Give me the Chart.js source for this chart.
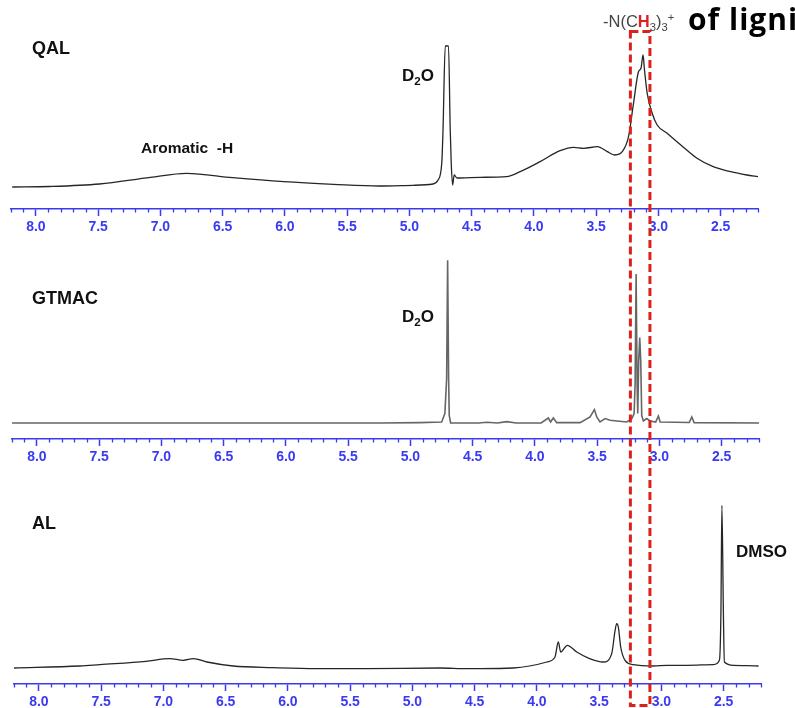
<!DOCTYPE html>
<html>
<head>
<meta charset="utf-8">
<script src="https://cdn.jsdelivr.net/npm/chart.js@4.4.1/dist/chart.umd.min.js"></script>
<style>
  html, body { margin: 0; padding: 0; background: #fff; }
  #page { position: relative; width: 795px; height: 708px; overflow: hidden; background: #fff;
          font-family: "Liberation Sans", Arial, sans-serif; }
  .panel { position: absolute; left: 0; width: 795px; }
  .panel canvas { display: block; }
  .lbl { position: absolute; font-weight: bold; color: #111; white-space: pre; line-height: 1; }
  .lbl sub, .lbl sup { font-size: 0.68em; line-height: 0; }
  #overlay { position: absolute; left: 0; top: 0; pointer-events: none; }
</style>
</head>
<body>
<div id="page">
  <div class="panel" style="top:30px;height:205px"><canvas id="cQAL" width="795" height="205"></canvas></div>
  <div class="panel" style="top:250px;height:215px"><canvas id="cGTMAC" width="795" height="215"></canvas></div>
  <div class="panel" style="top:490px;height:220px"><canvas id="cAL" width="795" height="220"></canvas></div>

  <div class="lbl" style="left:32px;top:39px;font-size:18px">QAL</div>
  <div class="lbl" style="left:141px;top:140px;font-size:15.5px">Aromatic  -H</div>
  <div class="lbl" style="left:402px;top:67px;font-size:17px">D<sub>2</sub>O</div>
  <div class="lbl" style="left:32px;top:289px;font-size:18px">GTMAC</div>
  <div class="lbl" style="left:402px;top:308px;font-size:17px">D<sub>2</sub>O</div>
  <div class="lbl" style="left:32px;top:514px;font-size:18px">AL</div>
  <div class="lbl" style="left:736px;top:543px;font-size:17px">DMSO</div>
  <div class="lbl" style="left:603px;top:13px;font-size:16.5px;font-weight:normal;color:#444">-N(C<span style="color:#e02020;font-weight:bold">H</span><sub>3</sub>)<sub>3</sub><sup>+</sup></div>
  <div class="lbl" style="left:688px;top:4px;font-size:30px;letter-spacing:1px;font-family:'Open Sans',sans-serif;color:#000">of lignin</div>

  <canvas id="overlay" width="795" height="708"></canvas>
</div>

<script>
// 1H NMR spectra, chemical shift (ppm) against intensity (a.u., 0 = flat baseline)
const qalPpm = [8.19, 7.89, 7.49, 7.08, 6.79, 6.42, 6.01, 5.61, 5.24, 4.97, 4.81, 4.77, 4.74, 4.73,
  4.712, 4.686, 4.672, 4.664, 4.653, 4.64, 4.618, 4.59, 4.43, 4.22, 4.11, 3.95, 3.79, 3.68, 3.60,
  3.49, 3.41, 3.35, 3.29, 3.24, 3.20, 3.16, 3.14, 3.123, 3.113, 3.09, 3.05, 3.01, 2.93, 2.82, 2.69,
  2.56, 2.42, 2.29, 2.2];
const qalInt = [0, 0.5, 3, 9.7, 13.7, 9.3, 5.3, 2.7, 1, 1.7, 3, 7, 24, 57,
  141, 141, 57, 24, 2, 12, 9, 9, 9.7, 10.3, 15.3, 25.3, 36.3, 39.7, 38.7,
  40.3, 35.3, 32, 35.3, 50.3, 83.7, 115.3, 118.7, 132, 118.7, 93.7, 73.7, 62, 53.7, 42, 28.7,
  20.3, 15.3, 12, 10.3];

const gtmacPpm = [8.2, 5.5, 5.245, 4.924, 4.749, 4.723, 4.709, 4.701, 4.693, 4.688, 4.677, 4.45,
  4.387, 4.30, 4.227, 4.15, 3.95, 3.892, 3.874, 3.852, 3.825, 3.637, 3.557, 3.522, 3.503, 3.477,
  3.436, 3.396, 3.342, 3.262, 3.222, 3.203, 3.195, 3.187, 3.179, 3.174, 3.166, 3.158, 3.150, 3.142,
  3.129, 3.102, 3.075, 3.03, 3.008, 2.994, 2.76, 2.740, 2.721, 2.2];
const gtmacInt = [0, 0, 0, 0.4, 1, 9.4, 44.4, 162.7, 44.4, 7.7, 0, 0,
  0.7, 0, 1.4, 0, 0, 5, 1, 5, 0.4, 0.4, 6, 13.4, 6, 1,
  4.4, 2.7, 2, 1, 4.4, 9.4, 39.4, 149, 39.4, 9.4, 62.7, 85.4, 62.7, 7.7,
  2, 4.4, 2, 1, 7, 1, 0.5, 6, 0.4, 0];

const alPpm = [8.2, 7.67, 7.51, 7.14, 6.95, 6.84, 6.76, 6.65, 6.44, 6.12, 5.77, 5.37, 4.78, 4.56,
  4.46, 4.19, 3.92, 3.855, 3.828, 3.809, 3.756, 3.68, 3.577, 3.466, 3.399, 3.372, 3.359, 3.346,
  3.327, 3.292, 3.225, 3.064, 2.957, 2.796, 2.582, 2.534, 2.522, 2.514, 2.502, 2.494, 2.421, 2.313, 2.22];
const alInt = [0, 2, 3.4, 6.7, 9.4, 7.7, 9.4, 6, 2, 0.4, -0.6, -0.6, 0, -0.6,
  -0.6, 0, 6, 11, 26, 16, 22.7, 16, 9.4, 6, 14.4, 37.7, 44.4, 41,
  21, 7.7, 3.4, 2, 2.7, 2.7, 3.4, 7.7, 54.4, 162.7, 54.4, 6, 2.7, 2.4, 2];

// axis: shift range and labelled ticks
const ppmRange = [2.2, 8.2];
const majorTicks = [8.0, 7.5, 7.0, 6.5, 6.0, 5.5, 5.0, 4.5, 4.0, 3.5, 3.0, 2.5];
const minorStep = 0.1;
// highlighted -N(CH3)3+ region
const boxPpm = [3.225, 3.068];

const AXIS_BLUE = '#3a3af2';
const BOX_RED = '#d8231d';

// short 0.1 ppm ticks between the labelled ones
const minorTickPlugin = {
  id: 'minorTicks',
  afterDraw(chart) {
    const s = chart.scales.x;
    const ctx = chart.ctx;
    const y0 = s.top;
    ctx.save();
    ctx.strokeStyle = AXIS_BLUE;
    ctx.lineWidth = 1.3;
    const n = Math.round((ppmRange[1] - ppmRange[0]) / minorStep);
    for (let i = 0; i <= n; i++) {
      const v = ppmRange[0] + i * minorStep;
      if (Math.abs(v * 2 - Math.round(v * 2)) < 1e-6) continue;
      const px = Math.round(s.getPixelForValue(v)) + 0.5;
      ctx.beginPath();
      ctx.moveTo(px, y0);
      ctx.lineTo(px, y0 + 3.5);
      ctx.stroke();
    }
    ctx.restore();
  }
};

function makeSpectrum(id, ppm, inten, opts) {
  const pts = ppm.map((p, i) => ({ x: p, y: inten[i] }));
  return new Chart(document.getElementById(id), {
    type: 'line',
    data: {
      datasets: [{
        data: pts,
        borderColor: opts.color,
        borderWidth: opts.width,
        pointRadius: 0,
        fill: false,
        tension: 0,
        cubicInterpolationMode: opts.smooth ? 'monotone' : 'default'
      }]
    },
    options: {
      responsive: false,
      animation: false,
      devicePixelRatio: 1,
      parsing: false,
      layout: { padding: { left: opts.padL, right: opts.padR, top: 0, bottom: 0 } },
      plugins: { legend: { display: false }, tooltip: { enabled: false } },
      scales: {
        x: {
          type: 'linear',
          reverse: true,
          min: ppmRange[0],
          max: ppmRange[1],
          afterBuildTicks: (s) => { s.ticks = majorTicks.map(v => ({ value: v })); },
          afterFit: (s) => { s.height = 26; },
          border: { display: true, color: AXIS_BLUE, width: 1.5 },
          grid: { display: true, drawOnChartArea: false, drawTicks: true, tickLength: 7,
                  tickColor: AXIS_BLUE, tickWidth: 1.5, color: AXIS_BLUE },
          ticks: {
            autoSkip: false, maxRotation: 0, padding: 3,
            color: AXIS_BLUE,
            font: { family: '"Liberation Sans", Arial, sans-serif', size: 14, weight: 'bold' },
            callback: (v) => Number(v).toFixed(1)
          }
        },
        y: { display: false, min: opts.yMin, max: opts.yMax }
      }
    },
    plugins: [minorTickPlugin]
  });
}

const chartQAL = makeSpectrum('cQAL', qalPpm, qalInt,
  { color: '#262626', width: 1.3, smooth: true, padL: 11, padR: 37, yMin: -22, yMax: 157 });
const chartGTMAC = makeSpectrum('cGTMAC', gtmacPpm, gtmacInt,
  { color: '#666', width: 1.6, smooth: false, padL: 12, padR: 36, yMin: -16, yMax: 173 });
const chartAL = makeSpectrum('cAL', alPpm, alInt,
  { color: '#262626', width: 1.3, smooth: true, padL: 14, padR: 34, yMin: -16, yMax: 178 });

// dashed box across all three spectra marking the trimethylammonium protons
(function drawBox() {
  const c = document.getElementById('overlay');
  const ctx = c.getContext('2d');
  const s = chartQAL.scales.x;
  const xL = s.getPixelForValue(boxPpm[0]);
  const xR = s.getPixelForValue(boxPpm[1]);
  ctx.strokeStyle = BOX_RED;
  ctx.lineWidth = 3;
  ctx.setLineDash([8, 4]);
  ctx.strokeRect(xL, 31.5, xR - xL, 674);
})();
</script>
</body>
</html>
